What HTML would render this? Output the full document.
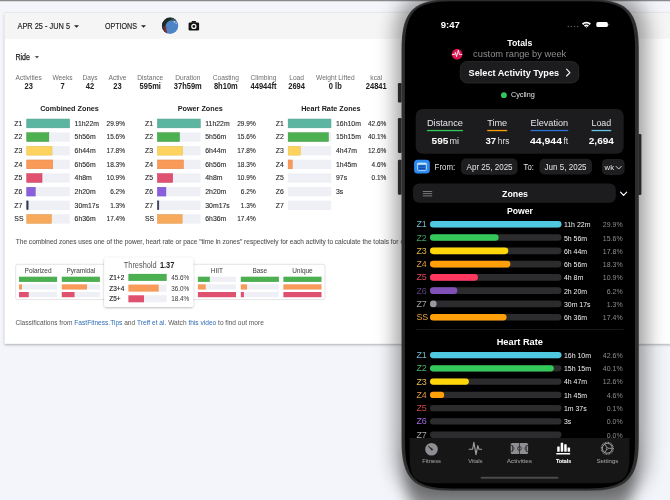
<!DOCTYPE html>
<html><head><meta charset="utf-8"><title>Totals</title>
<style>
html,body{margin:0;padding:0;width:670px;height:500px;overflow:hidden;background:#f3f5fa;}
svg{display:block;font-family:"Liberation Sans",sans-serif;will-change:transform;}
</style></head>
<body>
<svg width="670" height="500" viewBox="0 0 670 500">
<defs>
<filter id="cardsh" x="-5%" y="-5%" width="110%" height="115%"><feDropShadow dx="-0.3" dy="1.2" stdDeviation="0.9" flood-color="#000" flood-opacity="0.30"/></filter>
<filter id="popsh" x="-20%" y="-20%" width="140%" height="150%"><feDropShadow dx="0" dy="0.8" stdDeviation="1.3" flood-color="#000" flood-opacity="0.3"/></filter>
<filter id="phshA" x="-40%" y="-20%" width="180%" height="140%"><feMorphology in="SourceAlpha" operator="dilate" radius="7"/><feGaussianBlur stdDeviation="10"/><feOffset dx="0.5" dy="0"/><feComponentTransfer><feFuncA type="linear" slope="0.39"/></feComponentTransfer></filter>
<filter id="phshB" x="-30%" y="-60%" width="160%" height="220%"><feGaussianBlur in="SourceAlpha" stdDeviation="7"/><feComponentTransfer><feFuncA type="linear" slope="0.37"/></feComponentTransfer></filter>
<radialGradient id="avg" cx="0.62" cy="0.6" r="0.6"><stop offset="0" stop-color="#5b8fd0"/><stop offset="0.7" stop-color="#3f74b8"/><stop offset="1" stop-color="#2c4e7c"/></radialGradient>
</defs>
<rect x="0" y="0" width="670" height="500" fill="#f3f5fa"/>
<rect x="0" y="0" width="670" height="1.2" fill="#8a8a8a"/>
<rect x="0" y="1" width="670" height="1" fill="#d9dadf"/>
<rect x="4.8" y="12.8" width="700" height="330.9" fill="#fff" filter="url(#cardsh)"/>
<rect x="4.8" y="12.0" width="700" height="0.9" fill="#e3e4e9"/>
<rect x="4.80" y="12.80" width="700.00" height="26.00" rx="0" fill="#f5f5f5"/>
<text x="17.50" y="28.80" font-size="8.30" fill="#212121" stroke="#212121" stroke-width="0.15" textLength="52.50" lengthAdjust="spacingAndGlyphs">APR 25 - JUN 5</text>
<path d="M74 25.2 L79 25.2 L76.5 27.8 Z" fill="#222"/>
<text x="104.90" y="28.80" font-size="8.30" fill="#212121" stroke="#212121" stroke-width="0.15" textLength="32.10" lengthAdjust="spacingAndGlyphs">OPTIONS</text>
<path d="M141 25.2 L146 25.2 L143.5 27.8 Z" fill="#222"/>
<circle cx="170.1" cy="25.7" r="8.7" fill="#fff"/>
<clipPath id="avc"><circle cx="170.1" cy="25.7" r="8.2"/></clipPath>
<g clip-path="url(#avc)"><rect x="161" y="17" width="18" height="18" fill="#4d84c6"/><path d="M161 17 H179 V21.5 Q174 19 170 20.5 Q166 22 165.5 26 Q165.5 31 167.5 35 H161 Z" fill="#1e2a26"/><path d="M163.5 26 Q163 30 165.5 34 L167.5 34 Q166 30 166.3 26.5 Z" fill="#8a2e2e" opacity="0.9"/><path d="M171 18.5 Q174 18 176.5 20.5 Q174 20 172 21 Z" fill="#3c5a48"/><circle cx="174.5" cy="21.8" r="0.9" fill="#e8eef6" opacity="0.8"/><circle cx="176.2" cy="23.2" r="0.7" fill="#e8eef6" opacity="0.7"/></g>
<rect x="188.6" y="22.5" width="10.5" height="8.0" rx="1.3" fill="#111"/>
<path d="M191.2 22.8 L192.0 21.0 H195.6 L196.4 22.8 Z" fill="#111"/>
<circle cx="193.85" cy="26.4" r="2.65" fill="#f5f5f5"/><circle cx="193.85" cy="26.4" r="1.35" fill="#111"/>
<text x="15.40" y="59.70" font-size="8.40" fill="#212121" stroke="#212121" stroke-width="0.25" textLength="14.60" lengthAdjust="spacingAndGlyphs">Ride</text>
<path d="M34.9 56.1 L39 56.1 L36.95 58.4 Z" fill="#555"/>
<text x="15.56" y="80.00" font-size="7.10" fill="#6e6e6e" textLength="26.19" lengthAdjust="spacingAndGlyphs">Activities</text>
<text x="24.46" y="88.90" font-size="8.40" fill="#212121" font-weight="bold" textLength="8.37" lengthAdjust="spacingAndGlyphs">23</text>
<text x="52.42" y="80.00" font-size="7.10" fill="#6e6e6e" textLength="20.17" lengthAdjust="spacingAndGlyphs">Weeks</text>
<text x="60.41" y="88.90" font-size="8.40" fill="#212121" font-weight="bold" textLength="4.19" lengthAdjust="spacingAndGlyphs">7</text>
<text x="82.44" y="80.00" font-size="7.10" fill="#6e6e6e" textLength="15.12" lengthAdjust="spacingAndGlyphs">Days</text>
<text x="85.81" y="88.90" font-size="8.40" fill="#212121" font-weight="bold" textLength="8.37" lengthAdjust="spacingAndGlyphs">42</text>
<text x="108.46" y="80.00" font-size="7.10" fill="#6e6e6e" textLength="18.08" lengthAdjust="spacingAndGlyphs">Active</text>
<text x="113.31" y="88.90" font-size="8.40" fill="#212121" font-weight="bold" textLength="8.37" lengthAdjust="spacingAndGlyphs">23</text>
<text x="137.33" y="80.00" font-size="7.10" fill="#6e6e6e" textLength="25.83" lengthAdjust="spacingAndGlyphs">Distance</text>
<text x="139.58" y="88.90" font-size="8.40" fill="#212121" font-weight="bold" textLength="21.34" lengthAdjust="spacingAndGlyphs">595mi</text>
<text x="175.25" y="80.00" font-size="7.10" fill="#6e6e6e" textLength="25.09" lengthAdjust="spacingAndGlyphs">Duration</text>
<text x="173.78" y="88.90" font-size="8.40" fill="#212121" font-weight="bold" textLength="28.04" lengthAdjust="spacingAndGlyphs">37h59m</text>
<text x="212.75" y="80.00" font-size="7.10" fill="#6e6e6e" textLength="26.20" lengthAdjust="spacingAndGlyphs">Coasting</text>
<text x="213.93" y="88.90" font-size="8.40" fill="#212121" font-weight="bold" textLength="23.85" lengthAdjust="spacingAndGlyphs">8h10m</text>
<text x="250.59" y="80.00" font-size="7.10" fill="#6e6e6e" textLength="25.82" lengthAdjust="spacingAndGlyphs">Climbing</text>
<text x="250.53" y="88.90" font-size="8.40" fill="#212121" font-weight="bold" textLength="25.94" lengthAdjust="spacingAndGlyphs">44944ft</text>
<text x="289.21" y="80.00" font-size="7.10" fill="#6e6e6e" textLength="14.77" lengthAdjust="spacingAndGlyphs">Load</text>
<text x="288.23" y="88.90" font-size="8.40" fill="#212121" font-weight="bold" textLength="16.74" lengthAdjust="spacingAndGlyphs">2694</text>
<text x="315.99" y="80.00" font-size="7.10" fill="#6e6e6e" textLength="38.63" lengthAdjust="spacingAndGlyphs">Weight Lifted</text>
<text x="328.82" y="88.90" font-size="8.40" fill="#212121" font-weight="bold" textLength="12.97" lengthAdjust="spacingAndGlyphs">0 lb</text>
<text x="370.35" y="80.00" font-size="7.10" fill="#6e6e6e" textLength="11.81" lengthAdjust="spacingAndGlyphs">kcal</text>
<text x="365.78" y="88.90" font-size="8.40" fill="#212121" font-weight="bold" textLength="20.93" lengthAdjust="spacingAndGlyphs">24841</text>
<text x="40.15" y="111.00" font-size="7.70" fill="#212121" font-weight="bold" textLength="58.71" lengthAdjust="spacingAndGlyphs">Combined Zones</text>
<text x="14.30" y="125.80" font-size="7.50" fill="#2a2a2a" stroke="#2a2a2a" stroke-width="0.12" textLength="8.03" lengthAdjust="spacingAndGlyphs">Z1</text>
<rect x="26.50" y="118.80" width="43.30" height="9.30" rx="0" fill="#eef0f6"/>
<rect x="26.75" y="119.05" width="42.80" height="8.8" fill="#5cb5a0" stroke="#4aa08c" stroke-width="0.5"/>
<text x="74.60" y="125.80" font-size="7.50" fill="#2a2a2a" stroke="#2a2a2a" stroke-width="0.12" textLength="24.36" lengthAdjust="spacingAndGlyphs">11h22m</text>
<text x="106.54" y="125.80" font-size="7.50" fill="#2a2a2a" stroke="#2a2a2a" stroke-width="0.12" textLength="18.46" lengthAdjust="spacingAndGlyphs">29.9%</text>
<text x="14.30" y="139.44" font-size="7.50" fill="#2a2a2a" stroke="#2a2a2a" stroke-width="0.12" textLength="8.03" lengthAdjust="spacingAndGlyphs">Z2</text>
<rect x="26.50" y="132.44" width="43.30" height="9.30" rx="0" fill="#eef0f6"/>
<rect x="26.75" y="132.69" width="22.09" height="8.8" fill="#4caf50" stroke="#3e9a43" stroke-width="0.5"/>
<text x="74.60" y="139.44" font-size="7.50" fill="#2a2a2a" stroke="#2a2a2a" stroke-width="0.12" textLength="21.04" lengthAdjust="spacingAndGlyphs">5h56m</text>
<text x="106.54" y="139.44" font-size="7.50" fill="#2a2a2a" stroke="#2a2a2a" stroke-width="0.12" textLength="18.46" lengthAdjust="spacingAndGlyphs">15.6%</text>
<text x="14.30" y="153.08" font-size="7.50" fill="#2a2a2a" stroke="#2a2a2a" stroke-width="0.12" textLength="8.03" lengthAdjust="spacingAndGlyphs">Z3</text>
<rect x="26.50" y="146.08" width="43.30" height="9.30" rx="0" fill="#eef0f6"/>
<rect x="26.75" y="146.33" width="25.28" height="8.8" fill="#fdd35f" stroke="#e9bf4e" stroke-width="0.5"/>
<text x="74.60" y="153.08" font-size="7.50" fill="#2a2a2a" stroke="#2a2a2a" stroke-width="0.12" textLength="21.04" lengthAdjust="spacingAndGlyphs">6h44m</text>
<text x="106.54" y="153.08" font-size="7.50" fill="#2a2a2a" stroke="#2a2a2a" stroke-width="0.12" textLength="18.46" lengthAdjust="spacingAndGlyphs">17.8%</text>
<text x="14.30" y="166.72" font-size="7.50" fill="#2a2a2a" stroke="#2a2a2a" stroke-width="0.12" textLength="8.03" lengthAdjust="spacingAndGlyphs">Z4</text>
<rect x="26.50" y="159.72" width="43.30" height="9.30" rx="0" fill="#eef0f6"/>
<rect x="26.75" y="159.97" width="26.00" height="8.8" fill="#f99a59" stroke="#e5874a" stroke-width="0.5"/>
<text x="74.60" y="166.72" font-size="7.50" fill="#2a2a2a" stroke="#2a2a2a" stroke-width="0.12" textLength="21.04" lengthAdjust="spacingAndGlyphs">6h56m</text>
<text x="106.54" y="166.72" font-size="7.50" fill="#2a2a2a" stroke="#2a2a2a" stroke-width="0.12" textLength="18.46" lengthAdjust="spacingAndGlyphs">18.3%</text>
<text x="14.30" y="180.36" font-size="7.50" fill="#2a2a2a" stroke="#2a2a2a" stroke-width="0.12" textLength="8.03" lengthAdjust="spacingAndGlyphs">Z5</text>
<rect x="26.50" y="173.36" width="43.30" height="9.30" rx="0" fill="#eef0f6"/>
<rect x="26.75" y="173.61" width="15.28" height="8.8" fill="#e0506f" stroke="#c9405e" stroke-width="0.5"/>
<text x="74.60" y="180.36" font-size="7.50" fill="#2a2a2a" stroke="#2a2a2a" stroke-width="0.12" textLength="17.22" lengthAdjust="spacingAndGlyphs">4h8m</text>
<text x="106.54" y="180.36" font-size="7.50" fill="#2a2a2a" stroke="#2a2a2a" stroke-width="0.12" textLength="18.46" lengthAdjust="spacingAndGlyphs">10.9%</text>
<text x="14.30" y="194.00" font-size="7.50" fill="#2a2a2a" stroke="#2a2a2a" stroke-width="0.12" textLength="8.03" lengthAdjust="spacingAndGlyphs">Z6</text>
<rect x="26.50" y="187.00" width="43.30" height="9.30" rx="0" fill="#eef0f6"/>
<rect x="26.75" y="187.25" width="8.48" height="8.8" fill="#8b5fdc" stroke="#7650c4" stroke-width="0.5"/>
<text x="74.60" y="194.00" font-size="7.50" fill="#2a2a2a" stroke="#2a2a2a" stroke-width="0.12" textLength="21.04" lengthAdjust="spacingAndGlyphs">2h20m</text>
<text x="110.16" y="194.00" font-size="7.50" fill="#2a2a2a" stroke="#2a2a2a" stroke-width="0.12" textLength="14.84" lengthAdjust="spacingAndGlyphs">6.2%</text>
<text x="14.30" y="207.64" font-size="7.50" fill="#2a2a2a" stroke="#2a2a2a" stroke-width="0.12" textLength="8.03" lengthAdjust="spacingAndGlyphs">Z7</text>
<rect x="26.50" y="200.64" width="43.30" height="9.30" rx="0" fill="#eef0f6"/>
<rect x="26.75" y="200.89" width="1.38" height="8.8" fill="#3c3d5e" stroke="#2c2d4a" stroke-width="0.5"/>
<text x="74.60" y="207.64" font-size="7.50" fill="#2a2a2a" stroke="#2a2a2a" stroke-width="0.12" textLength="24.48" lengthAdjust="spacingAndGlyphs">30m17s</text>
<text x="110.16" y="207.64" font-size="7.50" fill="#2a2a2a" stroke="#2a2a2a" stroke-width="0.12" textLength="14.84" lengthAdjust="spacingAndGlyphs">1.3%</text>
<text x="14.30" y="221.28" font-size="7.50" fill="#2a2a2a" stroke="#2a2a2a" stroke-width="0.12" textLength="9.18" lengthAdjust="spacingAndGlyphs">SS</text>
<rect x="26.50" y="214.28" width="43.30" height="9.30" rx="0" fill="#eef0f6"/>
<rect x="26.75" y="214.53" width="24.70" height="8.8" fill="#f7aa5b" stroke="#e3984c" stroke-width="0.5"/>
<text x="74.60" y="221.28" font-size="7.50" fill="#2a2a2a" stroke="#2a2a2a" stroke-width="0.12" textLength="21.04" lengthAdjust="spacingAndGlyphs">6h36m</text>
<text x="106.54" y="221.28" font-size="7.50" fill="#2a2a2a" stroke="#2a2a2a" stroke-width="0.12" textLength="18.46" lengthAdjust="spacingAndGlyphs">17.4%</text>
<text x="177.68" y="111.00" font-size="7.70" fill="#212121" font-weight="bold" textLength="45.05" lengthAdjust="spacingAndGlyphs">Power Zones</text>
<text x="145.00" y="125.80" font-size="7.50" fill="#2a2a2a" stroke="#2a2a2a" stroke-width="0.12" textLength="8.03" lengthAdjust="spacingAndGlyphs">Z1</text>
<rect x="157.20" y="118.80" width="43.30" height="9.30" rx="0" fill="#eef0f6"/>
<rect x="157.45" y="119.05" width="42.80" height="8.8" fill="#5cb5a0" stroke="#4aa08c" stroke-width="0.5"/>
<text x="205.30" y="125.80" font-size="7.50" fill="#2a2a2a" stroke="#2a2a2a" stroke-width="0.12" textLength="24.36" lengthAdjust="spacingAndGlyphs">11h22m</text>
<text x="237.24" y="125.80" font-size="7.50" fill="#2a2a2a" stroke="#2a2a2a" stroke-width="0.12" textLength="18.46" lengthAdjust="spacingAndGlyphs">29.9%</text>
<text x="145.00" y="139.44" font-size="7.50" fill="#2a2a2a" stroke="#2a2a2a" stroke-width="0.12" textLength="8.03" lengthAdjust="spacingAndGlyphs">Z2</text>
<rect x="157.20" y="132.44" width="43.30" height="9.30" rx="0" fill="#eef0f6"/>
<rect x="157.45" y="132.69" width="22.09" height="8.8" fill="#4caf50" stroke="#3e9a43" stroke-width="0.5"/>
<text x="205.30" y="139.44" font-size="7.50" fill="#2a2a2a" stroke="#2a2a2a" stroke-width="0.12" textLength="21.04" lengthAdjust="spacingAndGlyphs">5h56m</text>
<text x="237.24" y="139.44" font-size="7.50" fill="#2a2a2a" stroke="#2a2a2a" stroke-width="0.12" textLength="18.46" lengthAdjust="spacingAndGlyphs">15.6%</text>
<text x="145.00" y="153.08" font-size="7.50" fill="#2a2a2a" stroke="#2a2a2a" stroke-width="0.12" textLength="8.03" lengthAdjust="spacingAndGlyphs">Z3</text>
<rect x="157.20" y="146.08" width="43.30" height="9.30" rx="0" fill="#eef0f6"/>
<rect x="157.45" y="146.33" width="25.28" height="8.8" fill="#fdd35f" stroke="#e9bf4e" stroke-width="0.5"/>
<text x="205.30" y="153.08" font-size="7.50" fill="#2a2a2a" stroke="#2a2a2a" stroke-width="0.12" textLength="21.04" lengthAdjust="spacingAndGlyphs">6h44m</text>
<text x="237.24" y="153.08" font-size="7.50" fill="#2a2a2a" stroke="#2a2a2a" stroke-width="0.12" textLength="18.46" lengthAdjust="spacingAndGlyphs">17.8%</text>
<text x="145.00" y="166.72" font-size="7.50" fill="#2a2a2a" stroke="#2a2a2a" stroke-width="0.12" textLength="8.03" lengthAdjust="spacingAndGlyphs">Z4</text>
<rect x="157.20" y="159.72" width="43.30" height="9.30" rx="0" fill="#eef0f6"/>
<rect x="157.45" y="159.97" width="26.00" height="8.8" fill="#f99a59" stroke="#e5874a" stroke-width="0.5"/>
<text x="205.30" y="166.72" font-size="7.50" fill="#2a2a2a" stroke="#2a2a2a" stroke-width="0.12" textLength="21.04" lengthAdjust="spacingAndGlyphs">6h56m</text>
<text x="237.24" y="166.72" font-size="7.50" fill="#2a2a2a" stroke="#2a2a2a" stroke-width="0.12" textLength="18.46" lengthAdjust="spacingAndGlyphs">18.3%</text>
<text x="145.00" y="180.36" font-size="7.50" fill="#2a2a2a" stroke="#2a2a2a" stroke-width="0.12" textLength="8.03" lengthAdjust="spacingAndGlyphs">Z5</text>
<rect x="157.20" y="173.36" width="43.30" height="9.30" rx="0" fill="#eef0f6"/>
<rect x="157.45" y="173.61" width="15.28" height="8.8" fill="#e0506f" stroke="#c9405e" stroke-width="0.5"/>
<text x="205.30" y="180.36" font-size="7.50" fill="#2a2a2a" stroke="#2a2a2a" stroke-width="0.12" textLength="17.22" lengthAdjust="spacingAndGlyphs">4h8m</text>
<text x="237.24" y="180.36" font-size="7.50" fill="#2a2a2a" stroke="#2a2a2a" stroke-width="0.12" textLength="18.46" lengthAdjust="spacingAndGlyphs">10.9%</text>
<text x="145.00" y="194.00" font-size="7.50" fill="#2a2a2a" stroke="#2a2a2a" stroke-width="0.12" textLength="8.03" lengthAdjust="spacingAndGlyphs">Z6</text>
<rect x="157.20" y="187.00" width="43.30" height="9.30" rx="0" fill="#eef0f6"/>
<rect x="157.45" y="187.25" width="8.48" height="8.8" fill="#8b5fdc" stroke="#7650c4" stroke-width="0.5"/>
<text x="205.30" y="194.00" font-size="7.50" fill="#2a2a2a" stroke="#2a2a2a" stroke-width="0.12" textLength="21.04" lengthAdjust="spacingAndGlyphs">2h20m</text>
<text x="240.86" y="194.00" font-size="7.50" fill="#2a2a2a" stroke="#2a2a2a" stroke-width="0.12" textLength="14.84" lengthAdjust="spacingAndGlyphs">6.2%</text>
<text x="145.00" y="207.64" font-size="7.50" fill="#2a2a2a" stroke="#2a2a2a" stroke-width="0.12" textLength="8.03" lengthAdjust="spacingAndGlyphs">Z7</text>
<rect x="157.20" y="200.64" width="43.30" height="9.30" rx="0" fill="#eef0f6"/>
<rect x="157.45" y="200.89" width="1.38" height="8.8" fill="#3c3d5e" stroke="#2c2d4a" stroke-width="0.5"/>
<text x="205.30" y="207.64" font-size="7.50" fill="#2a2a2a" stroke="#2a2a2a" stroke-width="0.12" textLength="24.48" lengthAdjust="spacingAndGlyphs">30m17s</text>
<text x="240.86" y="207.64" font-size="7.50" fill="#2a2a2a" stroke="#2a2a2a" stroke-width="0.12" textLength="14.84" lengthAdjust="spacingAndGlyphs">1.3%</text>
<text x="145.00" y="221.28" font-size="7.50" fill="#2a2a2a" stroke="#2a2a2a" stroke-width="0.12" textLength="9.18" lengthAdjust="spacingAndGlyphs">SS</text>
<rect x="157.20" y="214.28" width="43.30" height="9.30" rx="0" fill="#eef0f6"/>
<rect x="157.45" y="214.53" width="24.70" height="8.8" fill="#f7aa5b" stroke="#e3984c" stroke-width="0.5"/>
<text x="205.30" y="221.28" font-size="7.50" fill="#2a2a2a" stroke="#2a2a2a" stroke-width="0.12" textLength="21.04" lengthAdjust="spacingAndGlyphs">6h36m</text>
<text x="237.24" y="221.28" font-size="7.50" fill="#2a2a2a" stroke="#2a2a2a" stroke-width="0.12" textLength="18.46" lengthAdjust="spacingAndGlyphs">17.4%</text>
<text x="301.13" y="111.00" font-size="7.70" fill="#212121" font-weight="bold" textLength="59.53" lengthAdjust="spacingAndGlyphs">Heart Rate Zones</text>
<text x="275.70" y="125.80" font-size="7.50" fill="#2a2a2a" stroke="#2a2a2a" stroke-width="0.12" textLength="8.03" lengthAdjust="spacingAndGlyphs">Z1</text>
<rect x="287.90" y="118.80" width="43.30" height="9.30" rx="0" fill="#eef0f6"/>
<rect x="288.15" y="119.05" width="42.80" height="8.8" fill="#5cb5a0" stroke="#4aa08c" stroke-width="0.5"/>
<text x="336.00" y="125.80" font-size="7.50" fill="#2a2a2a" stroke="#2a2a2a" stroke-width="0.12" textLength="24.87" lengthAdjust="spacingAndGlyphs">16h10m</text>
<text x="367.94" y="125.80" font-size="7.50" fill="#2a2a2a" stroke="#2a2a2a" stroke-width="0.12" textLength="18.46" lengthAdjust="spacingAndGlyphs">42.6%</text>
<text x="275.70" y="139.44" font-size="7.50" fill="#2a2a2a" stroke="#2a2a2a" stroke-width="0.12" textLength="8.03" lengthAdjust="spacingAndGlyphs">Z2</text>
<rect x="287.90" y="132.44" width="43.30" height="9.30" rx="0" fill="#eef0f6"/>
<rect x="288.15" y="132.69" width="40.26" height="8.8" fill="#4caf50" stroke="#3e9a43" stroke-width="0.5"/>
<text x="336.00" y="139.44" font-size="7.50" fill="#2a2a2a" stroke="#2a2a2a" stroke-width="0.12" textLength="24.87" lengthAdjust="spacingAndGlyphs">15h15m</text>
<text x="367.94" y="139.44" font-size="7.50" fill="#2a2a2a" stroke="#2a2a2a" stroke-width="0.12" textLength="18.46" lengthAdjust="spacingAndGlyphs">40.1%</text>
<text x="275.70" y="153.08" font-size="7.50" fill="#2a2a2a" stroke="#2a2a2a" stroke-width="0.12" textLength="8.03" lengthAdjust="spacingAndGlyphs">Z3</text>
<rect x="287.90" y="146.08" width="43.30" height="9.30" rx="0" fill="#eef0f6"/>
<rect x="288.15" y="146.33" width="12.31" height="8.8" fill="#fdd35f" stroke="#e9bf4e" stroke-width="0.5"/>
<text x="336.00" y="153.08" font-size="7.50" fill="#2a2a2a" stroke="#2a2a2a" stroke-width="0.12" textLength="21.04" lengthAdjust="spacingAndGlyphs">4h47m</text>
<text x="367.94" y="153.08" font-size="7.50" fill="#2a2a2a" stroke="#2a2a2a" stroke-width="0.12" textLength="18.46" lengthAdjust="spacingAndGlyphs">12.6%</text>
<text x="275.70" y="166.72" font-size="7.50" fill="#2a2a2a" stroke="#2a2a2a" stroke-width="0.12" textLength="8.03" lengthAdjust="spacingAndGlyphs">Z4</text>
<rect x="287.90" y="159.72" width="43.30" height="9.30" rx="0" fill="#eef0f6"/>
<rect x="288.15" y="159.97" width="4.18" height="8.8" fill="#f99a59" stroke="#e5874a" stroke-width="0.5"/>
<text x="336.00" y="166.72" font-size="7.50" fill="#2a2a2a" stroke="#2a2a2a" stroke-width="0.12" textLength="21.04" lengthAdjust="spacingAndGlyphs">1h45m</text>
<text x="371.56" y="166.72" font-size="7.50" fill="#2a2a2a" stroke="#2a2a2a" stroke-width="0.12" textLength="14.84" lengthAdjust="spacingAndGlyphs">4.6%</text>
<text x="275.70" y="180.36" font-size="7.50" fill="#2a2a2a" stroke="#2a2a2a" stroke-width="0.12" textLength="8.03" lengthAdjust="spacingAndGlyphs">Z5</text>
<rect x="287.90" y="173.36" width="43.30" height="9.30" rx="0" fill="#eef0f6"/>
<text x="336.00" y="180.36" font-size="7.50" fill="#2a2a2a" stroke="#2a2a2a" stroke-width="0.12" textLength="11.10" lengthAdjust="spacingAndGlyphs">97s</text>
<text x="371.56" y="180.36" font-size="7.50" fill="#2a2a2a" stroke="#2a2a2a" stroke-width="0.12" textLength="14.84" lengthAdjust="spacingAndGlyphs">0.1%</text>
<text x="275.70" y="194.00" font-size="7.50" fill="#2a2a2a" stroke="#2a2a2a" stroke-width="0.12" textLength="8.03" lengthAdjust="spacingAndGlyphs">Z6</text>
<rect x="287.90" y="187.00" width="43.30" height="9.30" rx="0" fill="#eef0f6"/>
<text x="336.00" y="194.00" font-size="7.50" fill="#2a2a2a" stroke="#2a2a2a" stroke-width="0.12" textLength="7.27" lengthAdjust="spacingAndGlyphs">3s</text>
<text x="275.70" y="207.64" font-size="7.50" fill="#2a2a2a" stroke="#2a2a2a" stroke-width="0.12" textLength="8.03" lengthAdjust="spacingAndGlyphs">Z7</text>
<rect x="287.90" y="200.64" width="43.30" height="9.30" rx="0" fill="#eef0f6"/>
<text x="15.80" y="243.70" font-size="6.60" fill="#555" stroke="#555" stroke-width="0.08" textLength="382.60" lengthAdjust="spacingAndGlyphs">The combined zones uses one of the power, heart rate or pace &quot;time in zones&quot; respectively for each activity to calculate the totals for</text>
<text x="400.60" y="243.70" font-size="6.60" fill="#555" stroke="#555" stroke-width="0.08" textLength="33.04" lengthAdjust="spacingAndGlyphs">each week.</text>
<rect x="15.7" y="264.3" width="309.3" height="35.3" rx="2" fill="#fff" stroke="#dcdcdc" stroke-width="0.8"/>
<text x="24.57" y="272.70" font-size="7.00" fill="#4a4a4a" stroke="#4a4a4a" stroke-width="0.05" textLength="26.96" lengthAdjust="spacingAndGlyphs">Polarized</text>
<rect x="19.00" y="276.70" width="38.10" height="5.20" rx="0" fill="#eef0f6"/>
<rect x="19.00" y="276.70" width="38.10" height="5.20" rx="0" fill="#4caf50"/>
<rect x="19.00" y="284.35" width="38.10" height="5.20" rx="0" fill="#eef0f6"/>
<rect x="19.00" y="284.35" width="3.01" height="5.20" rx="0" fill="#f89a59"/>
<rect x="19.00" y="292.00" width="38.10" height="5.20" rx="0" fill="#eef0f6"/>
<rect x="19.00" y="292.00" width="9.73" height="5.20" rx="0" fill="#e0506f"/>
<text x="66.47" y="272.70" font-size="7.00" fill="#4a4a4a" stroke="#4a4a4a" stroke-width="0.05" textLength="28.76" lengthAdjust="spacingAndGlyphs">Pyramidal</text>
<rect x="61.80" y="276.70" width="38.10" height="5.20" rx="0" fill="#eef0f6"/>
<rect x="61.80" y="276.70" width="38.10" height="5.20" rx="0" fill="#4caf50"/>
<rect x="61.80" y="284.35" width="38.10" height="5.20" rx="0" fill="#eef0f6"/>
<rect x="61.80" y="284.35" width="25.17" height="5.20" rx="0" fill="#f89a59"/>
<rect x="61.80" y="292.00" width="38.10" height="5.20" rx="0" fill="#eef0f6"/>
<rect x="61.80" y="292.00" width="12.73" height="5.20" rx="0" fill="#e0506f"/>
<text x="210.84" y="272.70" font-size="7.00" fill="#4a4a4a" stroke="#4a4a4a" stroke-width="0.05" textLength="12.22" lengthAdjust="spacingAndGlyphs">HIIT</text>
<rect x="197.90" y="276.70" width="38.10" height="5.20" rx="0" fill="#eef0f6"/>
<rect x="197.90" y="276.70" width="11.93" height="5.20" rx="0" fill="#4caf50"/>
<rect x="197.90" y="284.35" width="38.10" height="5.20" rx="0" fill="#eef0f6"/>
<rect x="197.90" y="284.35" width="7.82" height="5.20" rx="0" fill="#f89a59"/>
<rect x="197.90" y="292.00" width="38.10" height="5.20" rx="0" fill="#eef0f6"/>
<rect x="197.90" y="292.00" width="38.10" height="5.20" rx="0" fill="#e0506f"/>
<text x="252.48" y="272.70" font-size="7.00" fill="#4a4a4a" stroke="#4a4a4a" stroke-width="0.05" textLength="14.74" lengthAdjust="spacingAndGlyphs">Base</text>
<rect x="240.80" y="276.70" width="38.10" height="5.20" rx="0" fill="#eef0f6"/>
<rect x="240.80" y="276.70" width="38.10" height="5.20" rx="0" fill="#4caf50"/>
<rect x="240.80" y="284.35" width="38.10" height="5.20" rx="0" fill="#eef0f6"/>
<rect x="240.80" y="284.35" width="6.22" height="5.20" rx="0" fill="#f89a59"/>
<rect x="240.80" y="292.00" width="38.10" height="5.20" rx="0" fill="#eef0f6"/>
<rect x="240.80" y="292.00" width="3.11" height="5.20" rx="0" fill="#e0506f"/>
<text x="292.20" y="272.70" font-size="7.00" fill="#4a4a4a" stroke="#4a4a4a" stroke-width="0.05" textLength="20.50" lengthAdjust="spacingAndGlyphs">Unique</text>
<rect x="283.40" y="276.70" width="38.10" height="5.20" rx="0" fill="#eef0f6"/>
<rect x="283.40" y="276.70" width="38.10" height="5.20" rx="0" fill="#4caf50"/>
<rect x="283.40" y="284.35" width="38.10" height="5.20" rx="0" fill="#eef0f6"/>
<rect x="283.40" y="284.35" width="38.10" height="5.20" rx="0" fill="#f89a59"/>
<rect x="283.40" y="292.00" width="38.10" height="5.20" rx="0" fill="#eef0f6"/>
<rect x="283.40" y="292.00" width="38.10" height="5.20" rx="0" fill="#e0506f"/>
<rect x="104.2" y="257.5" width="89.1" height="49.4" rx="2.5" fill="#fff" filter="url(#popsh)"/>
<text x="123.80" y="268.40" font-size="8.30" fill="#555" textLength="32.80" lengthAdjust="spacingAndGlyphs">Threshold</text>
<text x="159.90" y="268.40" font-size="8.30" fill="#222" font-weight="bold" textLength="14.40" lengthAdjust="spacingAndGlyphs">1.37</text>
<text x="109.30" y="280.00" font-size="7.40" fill="#222" stroke="#222" stroke-width="0.15" textLength="14.95" lengthAdjust="spacingAndGlyphs">Z1+2</text>
<rect x="128.40" y="273.90" width="38.30" height="7.00" rx="0" fill="#eef0f6"/>
<rect x="128.40" y="273.90" width="38.30" height="7.00" rx="0" fill="#4caf50"/>
<text x="171.14" y="280.00" font-size="7.20" fill="#333" textLength="17.97" lengthAdjust="spacingAndGlyphs">45.6%</text>
<text x="109.30" y="290.70" font-size="7.40" fill="#222" stroke="#222" stroke-width="0.15" textLength="14.95" lengthAdjust="spacingAndGlyphs">Z3+4</text>
<rect x="128.40" y="284.60" width="38.30" height="7.00" rx="0" fill="#eef0f6"/>
<rect x="128.40" y="284.60" width="30.30" height="7.00" rx="0" fill="#f89a59"/>
<text x="171.14" y="290.70" font-size="7.20" fill="#333" textLength="17.97" lengthAdjust="spacingAndGlyphs">36.0%</text>
<text x="109.30" y="301.40" font-size="7.40" fill="#222" stroke="#222" stroke-width="0.15" textLength="11.35" lengthAdjust="spacingAndGlyphs">Z5+</text>
<rect x="128.40" y="295.30" width="38.30" height="7.00" rx="0" fill="#eef0f6"/>
<rect x="128.40" y="295.30" width="15.60" height="7.00" rx="0" fill="#e0506f"/>
<text x="171.14" y="301.40" font-size="7.20" fill="#333" textLength="17.97" lengthAdjust="spacingAndGlyphs">18.4%</text>
<text x="15.40" y="325.2" font-size="7.4" fill="#555" textLength="58.93" lengthAdjust="spacingAndGlyphs" xml:space="preserve">Classifications from </text>
<text x="74.33" y="325.2" font-size="7.4" fill="#2f6db5" textLength="48.07" lengthAdjust="spacingAndGlyphs" xml:space="preserve">FastFitness.Tips</text>
<text x="122.39" y="325.2" font-size="7.4" fill="#555" textLength="14.65" lengthAdjust="spacingAndGlyphs" xml:space="preserve"> and </text>
<text x="137.04" y="325.2" font-size="7.4" fill="#2f6db5" textLength="29.28" lengthAdjust="spacingAndGlyphs" xml:space="preserve">Treff et al.</text>
<text x="166.32" y="325.2" font-size="7.4" fill="#555" textLength="22.08" lengthAdjust="spacingAndGlyphs" xml:space="preserve"> Watch </text>
<text x="188.40" y="325.2" font-size="7.4" fill="#2f6db5" textLength="27.82" lengthAdjust="spacingAndGlyphs" xml:space="preserve">this video</text>
<text x="216.23" y="325.2" font-size="7.4" fill="#555" textLength="47.59" lengthAdjust="spacingAndGlyphs" xml:space="preserve"> to find out more</text>
<path d="M401.5 49.2 C401.5 11.2 413.5 -0.8 451.5 -0.8 H588.8 C626.8 -0.8 638.8 11.2 638.8 49.2 V440.7 C638.8 478.7 626.8 490.7 588.8 490.7 H451.5 C413.5 490.7 401.5 478.7 401.5 440.7 Z" fill="#000" filter="url(#phshA)"/>
<path d="M406.5 465 C406.5 431 417.5 420 451.5 420 H588.8 C622.8 420 633.8 431 633.8 465 V475.70000000000005 C633.8 509.70000000000005 622.8 520.7 588.8 520.7 H451.5 C417.5 520.7 406.5 509.70000000000005 406.5 475.70000000000005 Z" fill="#000" filter="url(#phshB)"/>
<rect x="397.9" y="83" width="3.8" height="19.5" rx="1.2" fill="#262628"/>
<rect x="397.9" y="118" width="3.8" height="35" rx="1.2" fill="#262628"/>
<rect x="397.9" y="159.7" width="3.8" height="35.10000000000002" rx="1.2" fill="#262628"/>
<rect x="637.6" y="134" width="3.8" height="61" rx="1.2" fill="#262628"/>
<path d="M401.5 49.2 C401.5 11.2 413.5 -0.8 451.5 -0.8 H588.8 C626.8 -0.8 638.8 11.2 638.8 49.2 V440.7 C638.8 478.7 626.8 490.7 588.8 490.7 H451.5 C413.5 490.7 401.5 478.7 401.5 440.7 Z" fill="#3a3a3a"/>
<path d="M402.2 49.199999999999996 C402.2 11.6 413.9 -0.10000000000000009 451.5 -0.10000000000000009 H588.8 C626.3999999999999 -0.10000000000000009 638.0999999999999 11.6 638.0999999999999 49.199999999999996 V440.7 C638.0999999999999 478.3 626.3999999999999 490.0 588.8 490.0 H451.5 C413.9 490.0 402.2 478.3 402.2 440.7 Z" fill="#2d2d2d"/>
<path d="M404.9 48.2 C404.9 11.7 415.4 1.2 451.9 1.2 H588.0 C624.5 1.2 635.0 11.7 635.0 48.2 V441.59999999999997 C635.0 478.09999999999997 624.5 488.59999999999997 588.0 488.59999999999997 H451.9 C415.4 488.59999999999997 404.9 478.09999999999997 404.9 441.59999999999997 Z" fill="#000"/>
<text x="440.70" y="27.90" font-size="9.60" fill="#ffffff" font-weight="bold" textLength="19.20" lengthAdjust="spacingAndGlyphs">9:47</text>
<circle cx="568.30" cy="26.6" r="0.75" fill="#5a5a5a"/>
<circle cx="571.40" cy="26.6" r="0.75" fill="#5a5a5a"/>
<circle cx="574.50" cy="26.6" r="0.75" fill="#5a5a5a"/>
<circle cx="577.60" cy="26.6" r="0.75" fill="#5a5a5a"/>
<path d="M581.9 23.6 A6.2 6.2 0 0 1 590.9 23.6 L589.6 24.9 A4.4 4.4 0 0 0 583.2 24.9 Z" fill="#fff"/>
<path d="M583.9 25.6 A3.4 3.4 0 0 1 588.9 25.6 L587.6 26.9 A1.6 1.6 0 0 0 585.2 26.9 Z" fill="#fff"/>
<path d="M585.8 27.5 L586.4 28.2 L587.0 27.5 A0.8 0.8 0 0 0 585.8 27.5 Z" fill="#fff"/>
<circle cx="586.4" cy="22.8" r="0" fill="#fff"/>
<rect x="596.3" y="22.1" width="11.6" height="4.9" rx="1.6" fill="#fff"/>
<rect x="608.4" y="23.7" width="0.9" height="1.7" rx="0.4" fill="#777"/>
<text x="507.30" y="45.80" font-size="9.00" fill="#ffffff" font-weight="bold" textLength="25.10" lengthAdjust="spacingAndGlyphs">Totals</text>
<circle cx="457.1" cy="54.2" r="5.4" fill="#d91450"/>
<path d="M452.2 54.5 H454.7 L455.5 52.4 L456.5 56.7 L458.3 50.2 L459.4 54.5 H462.1" fill="none" stroke="#fff" stroke-width="0.85" stroke-linejoin="round"/>
<text x="473.10" y="57.20" font-size="9.30" fill="#8e8e93" textLength="93.18" lengthAdjust="spacingAndGlyphs">custom range by week</text>
<rect x="460.3" y="61.6" width="118.4" height="21.4" rx="7" fill="#1c1c1e" stroke="#2e2e30" stroke-width="0.8"/>
<text x="468.60" y="76.00" font-size="9.90" fill="#ffffff" font-weight="bold" textLength="90.50" lengthAdjust="spacingAndGlyphs">Select Activity Types</text>
<path d="M566.6 69.2 L569.9 72.6 L566.6 76" fill="none" stroke="#fff" stroke-width="1.1" stroke-linecap="round" stroke-linejoin="round"/>
<circle cx="503.9" cy="95.2" r="2.9" fill="#34c759"/>
<text x="511.00" y="97.20" font-size="7.00" fill="#e5e5ea" textLength="23.80" lengthAdjust="spacingAndGlyphs">Cycling</text>
<rect x="415.7" y="109" width="208" height="44.8" rx="7" fill="#1c1c1e"/>
<text x="426.90" y="126.30" font-size="9.70" fill="#e5e5ea" textLength="36.10" lengthAdjust="spacingAndGlyphs">Distance</text>
<rect x="426.90" y="129.90" width="36.10" height="1.30" rx="0" fill="#34c759"/>
<text x="487.20" y="126.30" font-size="9.70" fill="#e5e5ea" textLength="20.00" lengthAdjust="spacingAndGlyphs">Time</text>
<rect x="487.20" y="129.90" width="20.00" height="1.30" rx="0" fill="#ff9f0a"/>
<text x="530.60" y="126.30" font-size="9.70" fill="#e5e5ea" textLength="37.60" lengthAdjust="spacingAndGlyphs">Elevation</text>
<rect x="530.60" y="129.90" width="37.60" height="1.30" rx="0" fill="#2f72d6"/>
<text x="591.50" y="126.30" font-size="9.70" fill="#e5e5ea" textLength="19.70" lengthAdjust="spacingAndGlyphs">Load</text>
<rect x="591.50" y="129.90" width="19.70" height="1.30" rx="0" fill="#64c8e6"/>
<text x="431.60" y="143.50" font-size="9.90" fill="#ffffff" font-weight="bold" textLength="16.80" lengthAdjust="spacingAndGlyphs">595</text>
<text x="449.60" y="143.50" font-size="8.40" fill="#e0e0e4" textLength="9.50" lengthAdjust="spacingAndGlyphs">mi</text>
<text x="485.50" y="143.50" font-size="9.90" fill="#ffffff" font-weight="bold" textLength="10.70" lengthAdjust="spacingAndGlyphs">37</text>
<text x="497.80" y="143.50" font-size="8.40" fill="#e0e0e4" textLength="11.50" lengthAdjust="spacingAndGlyphs">hrs</text>
<text x="530.00" y="143.50" font-size="9.90" fill="#ffffff" font-weight="bold" textLength="32.00" lengthAdjust="spacingAndGlyphs">44,944</text>
<text x="563.40" y="143.50" font-size="8.40" fill="#e0e0e4" textLength="4.80" lengthAdjust="spacingAndGlyphs">ft</text>
<text x="588.80" y="143.50" font-size="9.90" fill="#ffffff" font-weight="bold" textLength="25.10" lengthAdjust="spacingAndGlyphs">2,694</text>
<rect x="414.1" y="159.8" width="15.7" height="13.8" rx="3.6" fill="#2c8cf4"/>
<rect x="417.5" y="163.1" width="8.9" height="7.5" rx="1.2" fill="#1f6fd6" stroke="#d8ecff" stroke-width="0.75"/>
<rect x="417.5" y="163.1" width="8.9" height="1.6" fill="#d8ecff"/>
<g fill="#134a9a"><rect x="419" y="165.8" width="6" height="0.9"/><rect x="419" y="168.2" width="6" height="0.9"/></g>
<text x="434.60" y="170.10" font-size="8.60" fill="#e5e5ea" textLength="20.60" lengthAdjust="spacingAndGlyphs">From:</text>
<rect x="460.9" y="158.6" width="56.7" height="16.1" rx="5" fill="#1e1e20"/>
<text x="466.60" y="170.10" font-size="8.60" fill="#e5e5ea" textLength="46.00" lengthAdjust="spacingAndGlyphs">Apr 25, 2025</text>
<text x="523.60" y="170.10" font-size="8.60" fill="#e5e5ea" textLength="10.20" lengthAdjust="spacingAndGlyphs">To:</text>
<rect x="539.5" y="158.8" width="52.5" height="15.7" rx="5" fill="#1e1e20"/>
<text x="544.60" y="170.10" font-size="8.60" fill="#e5e5ea" textLength="42.00" lengthAdjust="spacingAndGlyphs">Jun 5, 2025</text>
<rect x="601.9" y="158.9" width="22.7" height="16" rx="5" fill="#1e1e20"/>
<text x="604.62" y="170.10" font-size="8.00" fill="#e5e5ea" textLength="9.37" lengthAdjust="spacingAndGlyphs">wk</text>
<path d="M616.1 166.4 L618.7 169 L621.3 166.4" fill="none" stroke="#e5e5ea" stroke-width="0.9" stroke-linecap="round" stroke-linejoin="round"/>
<rect x="413" y="183.6" width="202.8" height="19.2" rx="6" fill="#1c1c1e"/>
<rect x="422.80" y="191.10" width="9.40" height="0.80" rx="0" fill="#8e8e93"/>
<rect x="422.80" y="193.30" width="9.40" height="0.80" rx="0" fill="#8e8e93"/>
<rect x="422.80" y="195.50" width="9.40" height="0.80" rx="0" fill="#8e8e93"/>
<text x="502.00" y="196.70" font-size="9.60" fill="#ffffff" font-weight="bold" textLength="26.00" lengthAdjust="spacingAndGlyphs">Zones</text>
<path d="M620.5 192.2 L623.6 195.3 L626.7 192.2" fill="none" stroke="#fff" stroke-width="1.2" stroke-linecap="round" stroke-linejoin="round"/>
<text x="506.90" y="214.40" font-size="9.40" fill="#ffffff" font-weight="bold" textLength="26.00" lengthAdjust="spacingAndGlyphs">Power</text>
<text x="416.40" y="227.40" font-size="9.20" fill="#79b9c9" textLength="10.41" lengthAdjust="spacingAndGlyphs">Z1</text>
<rect x="430.00" y="221.00" width="131.50" height="6.60" rx="3.3" fill="#2c2c2e"/>
<rect x="430" y="221.00" width="131.50" height="6.6" rx="3.3" fill="#4fc8e2"/>
<text x="563.90" y="227.30" font-size="7.70" fill="#f2f2f7" textLength="26.56" lengthAdjust="spacingAndGlyphs">11h 22m</text>
<text x="602.87" y="227.30" font-size="7.50" fill="#8e8e93" textLength="19.73" lengthAdjust="spacingAndGlyphs">29.9%</text>
<text x="416.40" y="240.67" font-size="9.20" fill="#3f9f63" textLength="10.41" lengthAdjust="spacingAndGlyphs">Z2</text>
<rect x="430.00" y="234.27" width="131.50" height="6.60" rx="3.3" fill="#2c2c2e"/>
<rect x="430" y="234.27" width="68.61" height="6.6" rx="3.3" fill="#34c759"/>
<text x="563.90" y="240.57" font-size="7.70" fill="#f2f2f7" textLength="23.21" lengthAdjust="spacingAndGlyphs">5h 56m</text>
<text x="602.87" y="240.57" font-size="7.50" fill="#8e8e93" textLength="19.73" lengthAdjust="spacingAndGlyphs">15.6%</text>
<text x="416.40" y="253.94" font-size="9.20" fill="#d7b64c" textLength="10.41" lengthAdjust="spacingAndGlyphs">Z3</text>
<rect x="430.00" y="247.54" width="131.50" height="6.60" rx="3.3" fill="#2c2c2e"/>
<rect x="430" y="247.54" width="78.28" height="6.6" rx="3.3" fill="#ffd60a"/>
<text x="563.90" y="253.84" font-size="7.70" fill="#f2f2f7" textLength="23.21" lengthAdjust="spacingAndGlyphs">6h 44m</text>
<text x="602.87" y="253.84" font-size="7.50" fill="#8e8e93" textLength="19.73" lengthAdjust="spacingAndGlyphs">17.8%</text>
<text x="416.40" y="267.21" font-size="9.20" fill="#d49a45" textLength="10.41" lengthAdjust="spacingAndGlyphs">Z4</text>
<rect x="430.00" y="260.81" width="131.50" height="6.60" rx="3.3" fill="#2c2c2e"/>
<rect x="430" y="260.81" width="80.48" height="6.6" rx="3.3" fill="#ff9f0a"/>
<text x="563.90" y="267.11" font-size="7.70" fill="#f2f2f7" textLength="23.21" lengthAdjust="spacingAndGlyphs">6h 56m</text>
<text x="602.87" y="267.11" font-size="7.50" fill="#8e8e93" textLength="19.73" lengthAdjust="spacingAndGlyphs">18.3%</text>
<text x="416.40" y="280.48" font-size="9.20" fill="#e04a5e" textLength="10.41" lengthAdjust="spacingAndGlyphs">Z5</text>
<rect x="430.00" y="274.08" width="131.50" height="6.60" rx="3.3" fill="#2c2c2e"/>
<rect x="430" y="274.08" width="47.94" height="6.6" rx="3.3" fill="#ff375f"/>
<text x="563.90" y="280.38" font-size="7.70" fill="#f2f2f7" textLength="19.34" lengthAdjust="spacingAndGlyphs">4h 8m</text>
<text x="602.87" y="280.38" font-size="7.50" fill="#8e8e93" textLength="19.73" lengthAdjust="spacingAndGlyphs">10.9%</text>
<text x="416.40" y="293.75" font-size="9.20" fill="#5b4277" textLength="10.41" lengthAdjust="spacingAndGlyphs">Z6</text>
<rect x="430.00" y="287.35" width="131.50" height="6.60" rx="3.3" fill="#2c2c2e"/>
<rect x="430" y="287.35" width="27.27" height="6.6" rx="3.3" fill="#7f51b6"/>
<text x="563.90" y="293.65" font-size="7.70" fill="#f2f2f7" textLength="23.21" lengthAdjust="spacingAndGlyphs">2h 20m</text>
<text x="606.74" y="293.65" font-size="7.50" fill="#8e8e93" textLength="15.86" lengthAdjust="spacingAndGlyphs">6.2%</text>
<text x="416.40" y="307.02" font-size="9.20" fill="#a0a0a0" textLength="10.41" lengthAdjust="spacingAndGlyphs">Z7</text>
<rect x="430.00" y="300.62" width="131.50" height="6.60" rx="3.3" fill="#2c2c2e"/>
<rect x="430" y="300.62" width="6.60" height="6.6" rx="3.3" fill="#9a9a9e"/>
<text x="563.90" y="306.92" font-size="7.70" fill="#f2f2f7" textLength="26.69" lengthAdjust="spacingAndGlyphs">30m 17s</text>
<text x="606.74" y="306.92" font-size="7.50" fill="#8e8e93" textLength="15.86" lengthAdjust="spacingAndGlyphs">1.3%</text>
<text x="416.40" y="320.29" font-size="9.20" fill="#e3a045" textLength="11.90" lengthAdjust="spacingAndGlyphs">SS</text>
<rect x="430.00" y="313.89" width="131.50" height="6.60" rx="3.3" fill="#2c2c2e"/>
<rect x="430" y="313.89" width="76.53" height="6.6" rx="3.3" fill="#ff9f0a"/>
<text x="563.90" y="320.19" font-size="7.70" fill="#f2f2f7" textLength="23.21" lengthAdjust="spacingAndGlyphs">6h 36m</text>
<text x="602.87" y="320.19" font-size="7.50" fill="#8e8e93" textLength="19.73" lengthAdjust="spacingAndGlyphs">17.4%</text>
<rect x="415.70" y="329.20" width="208.00" height="0.60" rx="0" fill="#2a2a2c"/>
<text x="496.70" y="345.00" font-size="9.20" fill="#ffffff" font-weight="bold" textLength="46.30" lengthAdjust="spacingAndGlyphs">Heart Rate</text>
<text x="416.40" y="358.00" font-size="9.20" fill="#79b9c9" textLength="10.41" lengthAdjust="spacingAndGlyphs">Z1</text>
<rect x="430.00" y="351.90" width="131.50" height="6.30" rx="3.15" fill="#2c2c2e"/>
<rect x="430" y="351.90" width="131.50" height="6.3" rx="3.15" fill="#4fc8e2"/>
<text x="563.90" y="357.90" font-size="7.70" fill="#f2f2f7" textLength="27.08" lengthAdjust="spacingAndGlyphs">16h 10m</text>
<text x="602.87" y="357.90" font-size="7.50" fill="#8e8e93" textLength="19.73" lengthAdjust="spacingAndGlyphs">42.6%</text>
<text x="416.40" y="371.28" font-size="9.20" fill="#4fb06b" textLength="10.41" lengthAdjust="spacingAndGlyphs">Z2</text>
<rect x="430.00" y="365.18" width="131.50" height="6.30" rx="3.15" fill="#2c2c2e"/>
<rect x="430" y="365.18" width="123.78" height="6.3" rx="3.15" fill="#34c759"/>
<text x="563.90" y="371.18" font-size="7.70" fill="#f2f2f7" textLength="27.08" lengthAdjust="spacingAndGlyphs">15h 15m</text>
<text x="602.87" y="371.18" font-size="7.50" fill="#8e8e93" textLength="19.73" lengthAdjust="spacingAndGlyphs">40.1%</text>
<text x="416.40" y="384.56" font-size="9.20" fill="#e2be57" textLength="10.41" lengthAdjust="spacingAndGlyphs">Z3</text>
<rect x="430.00" y="378.46" width="131.50" height="6.30" rx="3.15" fill="#2c2c2e"/>
<rect x="430" y="378.46" width="38.89" height="6.3" rx="3.15" fill="#ffd60a"/>
<text x="563.90" y="384.46" font-size="7.70" fill="#f2f2f7" textLength="23.21" lengthAdjust="spacingAndGlyphs">4h 47m</text>
<text x="602.87" y="384.46" font-size="7.50" fill="#8e8e93" textLength="19.73" lengthAdjust="spacingAndGlyphs">12.6%</text>
<text x="416.40" y="397.84" font-size="9.20" fill="#e0974a" textLength="10.41" lengthAdjust="spacingAndGlyphs">Z4</text>
<rect x="430.00" y="391.74" width="131.50" height="6.30" rx="3.15" fill="#2c2c2e"/>
<rect x="430" y="391.74" width="14.20" height="6.3" rx="3.15" fill="#ff9f0a"/>
<text x="563.90" y="397.74" font-size="7.70" fill="#f2f2f7" textLength="23.21" lengthAdjust="spacingAndGlyphs">1h 45m</text>
<text x="606.74" y="397.74" font-size="7.50" fill="#8e8e93" textLength="15.86" lengthAdjust="spacingAndGlyphs">4.6%</text>
<text x="416.40" y="411.12" font-size="9.20" fill="#c84848" textLength="10.41" lengthAdjust="spacingAndGlyphs">Z5</text>
<rect x="430.00" y="405.02" width="131.50" height="6.30" rx="3.15" fill="#2c2c2e"/>
<text x="563.90" y="411.02" font-size="7.70" fill="#f2f2f7" textLength="22.82" lengthAdjust="spacingAndGlyphs">1m 37s</text>
<text x="606.74" y="411.02" font-size="7.50" fill="#8e8e93" textLength="15.86" lengthAdjust="spacingAndGlyphs">0.1%</text>
<text x="416.40" y="424.40" font-size="9.20" fill="#a368de" textLength="10.41" lengthAdjust="spacingAndGlyphs">Z6</text>
<rect x="430.00" y="418.30" width="131.50" height="6.30" rx="3.15" fill="#2c2c2e"/>
<text x="563.90" y="424.30" font-size="7.70" fill="#f2f2f7" textLength="7.35" lengthAdjust="spacingAndGlyphs">3s</text>
<text x="606.74" y="424.30" font-size="7.50" fill="#8e8e93" textLength="15.86" lengthAdjust="spacingAndGlyphs">0.0%</text>
<text x="416.40" y="437.68" font-size="9.20" fill="#a8a8a8" textLength="10.41" lengthAdjust="spacingAndGlyphs">Z7</text>
<rect x="430.00" y="431.58" width="131.50" height="6.30" rx="3.15" fill="#2c2c2e"/>
<text x="606.74" y="437.58" font-size="7.50" fill="#8e8e93" textLength="15.86" lengthAdjust="spacingAndGlyphs">0.0%</text>
<path d="M409.7 438 H629.4 V458.2 C629.4 477.2 623.4 483.2 604.4 483.2 H434.7 C415.7 483.2 409.7 477.2 409.7 458.2 Z" fill="#161616"/>
<circle cx="431.5" cy="449.2" r="6.3" fill="#8e8e93"/>
<path d="M428.2 445.9 L432.9 449.4 L431.9 450.4 Z" fill="#1e1e1e" stroke="#1e1e1e" stroke-width="0.5" stroke-linejoin="round"/>
<text x="422.20" y="462.80" font-size="6.10" fill="#98989d" stroke="#98989d" stroke-width="0.08" textLength="18.80" lengthAdjust="spacingAndGlyphs">Fitness</text>
<path d="M469.2 449.2 H472.6 L473.9 442.4 L476.0 454.6 L477.8 445.6 L478.9 449.2 H481.6" fill="none" stroke="#a0a0a4" stroke-width="1.15" stroke-linejoin="round" stroke-linecap="round"/>
<text x="468.20" y="462.80" font-size="6.10" fill="#98989d" stroke="#98989d" stroke-width="0.08" textLength="14.30" lengthAdjust="spacingAndGlyphs">Vitals</text>
<rect x="510.7" y="442.9" width="17.4" height="11.2" rx="1.5" fill="#8e8e93"/>
<g fill="none" stroke="#202020" stroke-width="0.75"><line x1="519.45" y1="442.9" x2="519.45" y2="454.1"/><circle cx="519.45" cy="448.5" r="1.9"/><path d="M510.7 445.6 H512.6 V451.4 H510.7"/><path d="M528.2 445.6 H526.3 V451.4 H528.2"/><path d="M512.6 446.6 A2 2 0 0 1 512.6 450.4"/><path d="M526.3 446.6 A2 2 0 0 0 526.3 450.4"/></g>
<text x="506.80" y="462.80" font-size="6.10" fill="#98989d" stroke="#98989d" stroke-width="0.08" textLength="25.20" lengthAdjust="spacingAndGlyphs">Activities</text>
<rect x="557.20" y="446.40" width="2.50" height="5.30" rx="0.4" fill="#fff"/>
<rect x="560.70" y="442.70" width="2.50" height="9.00" rx="0.4" fill="#fff"/>
<rect x="564.20" y="444.30" width="2.50" height="7.40" rx="0.4" fill="#fff"/>
<rect x="567.60" y="447.40" width="2.50" height="4.30" rx="0.4" fill="#fff"/>
<rect x="556.20" y="453.00" width="14.00" height="1.50" rx="0.5" fill="#fff"/>
<text x="555.90" y="462.60" font-size="6.20" fill="#ffffff" font-weight="bold" stroke="#ffffff" stroke-width="0.1" textLength="15.30" lengthAdjust="spacingAndGlyphs">Totals</text>
<g transform="translate(607.3 448.3)"><circle r="4.9" fill="none" stroke="#a0a0a4" stroke-width="1.0"/><circle r="5.9" fill="none" stroke="#a0a0a4" stroke-width="1.3" stroke-dasharray="0.85 0.7"/><path d="M1 0 L4.6 0 M-0.5 -0.87 L-2.3 -3.98 M-0.5 0.87 L-2.3 3.98" stroke="#a0a0a4" stroke-width="0.9"/><circle r="1.0" fill="none" stroke="#a0a0a4" stroke-width="0.7"/></g>
<text x="596.40" y="462.80" font-size="6.10" fill="#98989d" stroke="#98989d" stroke-width="0.08" textLength="22.00" lengthAdjust="spacingAndGlyphs">Settings</text>
<rect x="480.60" y="476.70" width="77.90" height="2.10" rx="1" fill="#4a4a4c"/>
</svg>
</body></html>
